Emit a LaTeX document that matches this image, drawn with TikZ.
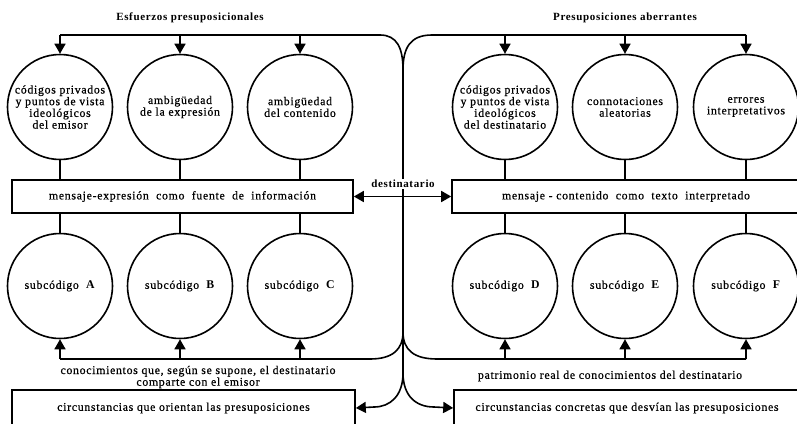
\documentclass[tikz,border=0pt]{standalone}
\usepackage{fontspec}
\setmainfont{Liberation Serif}[LetterSpace=6, UprightFeatures={FakeBold=0.6}]
\usetikzlibrary{arrows.meta}
\tikzset{
  conn/.style={line width=1.6pt},
  arr/.style={-{Triangle[width=11pt,length=10pt]}},
  darr/.style={{Triangle[width=11pt,length=10pt]}-{Triangle[width=11pt,length=10pt]}},
  txt/.style={font=\fontsize{11.8}{11.7}\selectfont},
  ttl/.style={font=\fontsize{11}{12}\selectfont\bfseries},
  circ/.style={circle, draw, line width=1.6pt, minimum size=105pt, inner sep=0pt, align=center, txt},
  tbox/.style={rectangle, draw, line width=1.6pt, minimum height=33pt, inner sep=0pt, txt},
  cbox/.style={rectangle, draw, line width=1.6pt, minimum height=36pt, inner sep=0pt, txt}
}
\begin{document}
\begin{tikzpicture}[x=1pt,y=-1pt]
\useasboundingbox (0,0) rectangle (797,423);
% titles
\node[ttl] (title1) at (190,18) {Esfuerzos presuposicionales};
\node[ttl] (title2) at (625,18) {Presuposiciones aberrantes};
% top circles
\node[circ] (t1) at (60,107) {códigos privados\\y puntos de vista\\ideológicos\\del emisor};
\node[circ] (t2) at (180,107) {ambigüedad\\de la expresión};
\node[circ] (t3) at (300,107) {ambigüedad\\del contenido};
\node[circ] (t4) at (505,107) {códigos privados\\y puntos de vista\\ideológicos\\del destinatario};
\node[circ] (t5) at (625,107) {connotaciones\\aleatorias};
\node[circ] (t6) at (746,107) {errores\\interpretativos};
% message boxes
\node[tbox, minimum width=341pt] (m1) at (182.5,196.5) {mensaje-expresión \ como \ fuente \ de \ información};
\node[tbox, minimum width=348pt] (m2) at (626,196.5) {mensaje - contenido \ como \ texto \ interpretado};
% bottom circles
\node[circ] (b1) at (60,286) {subcódigo \ \textbf{A}};
\node[circ] (b2) at (180,286) {subcódigo \ \textbf{B}};
\node[circ] (b3) at (300,286) {subcódigo \ \textbf{C}};
\node[circ] (b4) at (505,286) {subcódigo \ \textbf{D}};
\node[circ] (b5) at (625,286) {subcódigo \ \textbf{E}};
\node[circ] (b6) at (746,286) {subcódigo \ \textbf{F}};
% circumstance boxes
\node[cbox, minimum width=343pt] (c1) at (183.5,408) {circunstancias que orientan las presuposiciones};
\node[cbox, minimum width=346pt] (c2) at (627,408) {circunstancias concretas que desvían las presuposiciones};
% labels
\node[txt, align=center] (k1) at (198,377) {conocimientos que, según se supone, el destinatario\\comparte con el emisor};
\node[txt] (k2) at (610,376) {patrimonio real de conocimientos del destinatario};
% coordinates
\coordinate (hl) at (60,35);
\coordinate (hr) at (746,35);
\coordinate (jt) at (403,70);
\coordinate (jb) at (403,332);
\coordinate (jc) at (403,373);
\coordinate (bl) at (60,359);
\coordinate (br) at (746,359);
\coordinate (tla) at (380,35);
\coordinate (tra) at (432,35);
\coordinate (bla) at (370,359);
\coordinate (bra) at (437,359);
\coordinate (cla) at (374,407);
\coordinate (cra) at (434,407);
% top distribution lines
\draw[conn] (hl) -- (tla) .. controls (397,35) and (403,48) .. (jt);
\draw[conn] (jt) .. controls (403,48) and (410,35) .. (tra) -- (hr);
\foreach \n in {t1,t2,t3,t4,t5,t6}{
  \draw[conn,arr] (\n.north |- hl) -- (\n.north);
  \draw[conn] (\n.south) -- (\n.south |- m1.north);
}
\foreach \n in {b1,b2,b3,b4,b5,b6}{
  \draw[conn] (\n.north |- m1.south) -- (\n.north);
  \draw[conn,arr] (\n.south |- bl) -- (\n.south);
}
% central vertical
\draw[conn] (jt) -- (jc);
% bottom split
\draw[conn] (jb) .. controls (403,350) and (392,359) .. (bla) -- (bl);
\draw[conn] (jb) .. controls (403,350) and (414,359) .. (bra) -- (br);
% to circumstance boxes
\draw[conn,arr] (jc) .. controls (403,396) and (390,407) .. (cla) -- (c1.east);
\draw[conn,arr] (jc) .. controls (403,396) and (416,407) .. (cra) -- (c2.west);
% destinatario
\node[ttl, fill=white, inner sep=1pt] (dest) at (403,184) {destinatario};
\draw[conn,darr] (m1.east) -- (m2.west);
\end{tikzpicture}
\end{document}
